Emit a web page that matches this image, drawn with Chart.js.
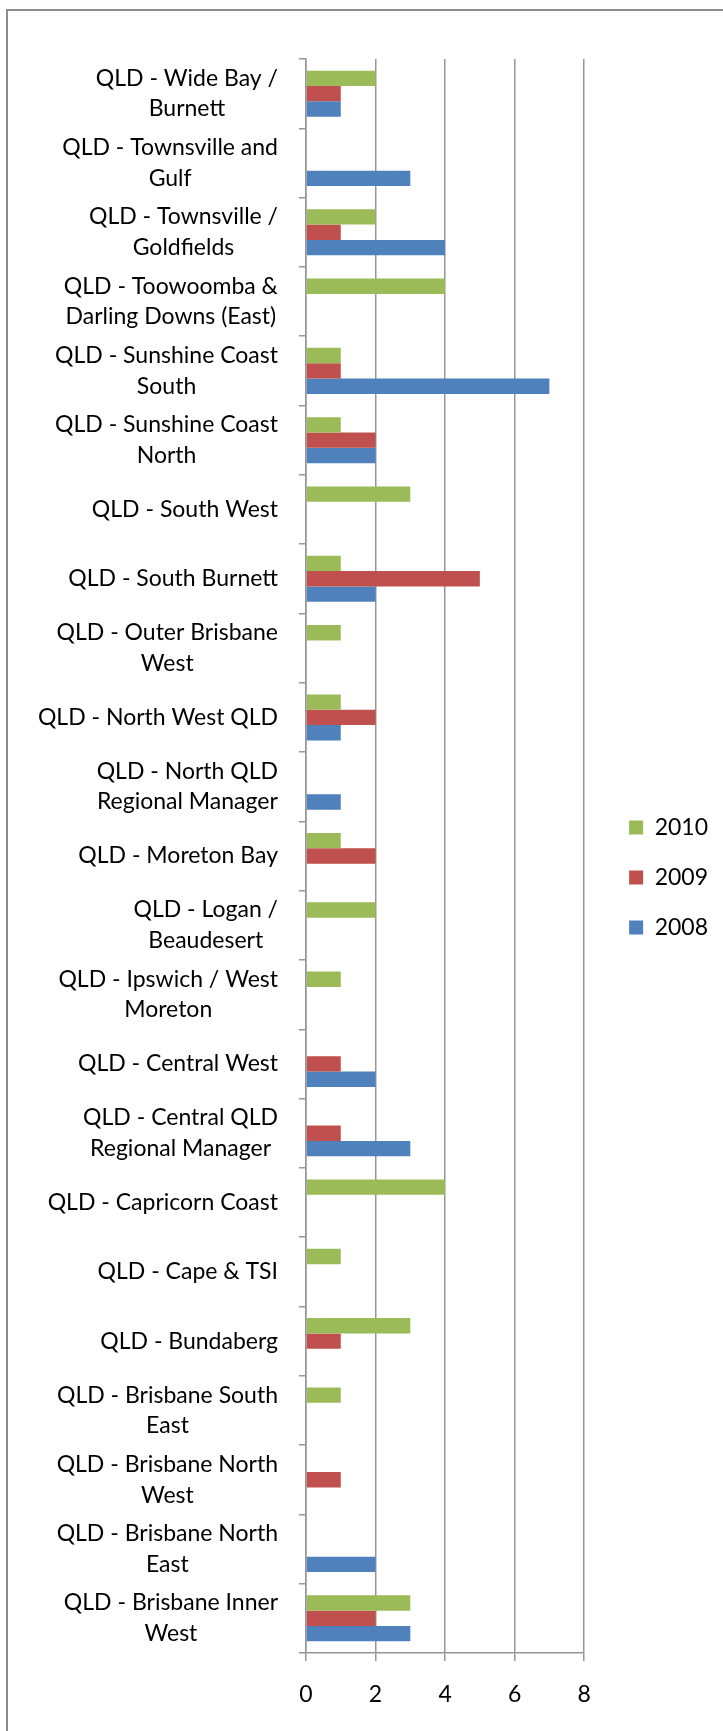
<!DOCTYPE html>
<html>
<head>
<meta charset="utf-8">
<script src="https://cdn.jsdelivr.net/npm/chart.js@4/dist/chart.umd.min.js"></script>
<style>
html,body{margin:0;padding:0;background:#fff;overflow:hidden;}
#frame{position:absolute;left:6px;top:9px;width:800px;height:1800px;border:2px solid #8c8c8c;box-sizing:border-box;}
#wrap{position:absolute;left:0;top:0;width:723px;height:1731px;}
</style>
</head>
<body>
<div id="frame"></div>
<div id="wrap"><canvas id="c" width="723" height="1731"></canvas></div>
<script>
const categories = [
  ["QLD - Wide Bay /", "Burnett"],
  ["QLD - Townsville and", "Gulf"],
  ["QLD - Townsville /", "Goldfields"],
  ["QLD - Toowoomba &", "Darling Downs (East)"],
  ["QLD - Sunshine Coast", "South"],
  ["QLD - Sunshine Coast", "North"],
  ["QLD - South West"],
  ["QLD - South Burnett"],
  ["QLD - Outer Brisbane", "West"],
  ["QLD - North West QLD"],
  ["QLD - North QLD", "Regional Manager"],
  ["QLD - Moreton Bay"],
  ["QLD - Logan /", "Beaudesert"],
  ["QLD - Ipswich / West", "Moreton"],
  ["QLD - Central West"],
  ["QLD - Central QLD", "Regional Manager"],
  ["QLD - Capricorn Coast"],
  ["QLD - Cape & TSI"],
  ["QLD - Bundaberg"],
  ["QLD - Brisbane South", "East"],
  ["QLD - Brisbane North", "West"],
  ["QLD - Brisbane North", "East"],
  ["QLD - Brisbane Inner", "West"]
];
const seriesNames = ["2010", "2009", "2008"];
const values2010 = [2, 0, 2, 4, 1, 1, 3, 1, 1, 1, 0, 1, 2, 1, 0, 0, 4, 1, 3, 1, 0, 0, 3];
const values2009 = [1, 0, 1, 0, 1, 2, 0, 5, 0, 2, 0, 2, 0, 0, 1, 1, 0, 0, 1, 0, 1, 0, 2];
const values2008 = [1, 3, 4, 0, 7, 2, 0, 2, 0, 1, 1, 0, 0, 0, 2, 3, 0, 0, 0, 0, 0, 2, 3];
const xTicks = [0, 2, 4, 6, 8];

const FONT = {family: "Lato, 'Open Sans', sans-serif", size: 23};
const GRID = '#969696';

const yLabelPlugin = {
  id: 'yLabels',
  afterDraw(chart) {
    const ctx = chart.ctx;
    const y = chart.scales.y;
    const right = chart.chartArea.left - 28;
    const lh = 30.7;
    ctx.save();
    ctx.font = FONT.size + 'px ' + FONT.family;
    ctx.fillStyle = '#000';
    ctx.textAlign = 'center';
    ctx.textBaseline = 'middle';
    categories.forEach((lines, i) => {
      const w = Math.max(...lines.map(t => ctx.measureText(t).width));
      const cx = right - w / 2;
      const cy = y.getPixelForValue(i);
      lines.forEach((t, j) => {
        ctx.fillText(t, cx, cy + (j - (lines.length - 1) / 2) * lh);
      });
    });
    ctx.restore();
  }
};

new Chart(document.getElementById('c'), {
  type: 'bar',
  data: {
    labels: categories,
    datasets: [
      {label: seriesNames[0], data: values2010, backgroundColor: '#9BBB59'},
      {label: seriesNames[1], data: values2009, backgroundColor: '#C0504D'},
      {label: seriesNames[2], data: values2008, backgroundColor: '#4F81BD'}
    ]
  },
  options: {
    indexAxis: 'y',
    responsive: false,
    devicePixelRatio: 1,
    animation: false,
    datasets: {bar: {categoryPercentage: 0.664, barPercentage: 1.0, borderWidth: 0}},
    layout: {padding: {top: 59, bottom: 21, left: 0, right: 5}},
    plugins: {
      tooltip: {enabled: false},
      legend: {
        position: 'right',
        align: 'start',
        title: {display: true, text: '', font: {size: 1, lineHeight: 1}, padding: {top: 729, bottom: 0}},
        labels: {boxWidth: 14, boxHeight: 14, padding: 27, font: FONT, color: '#000'}
      }
    },
    scales: {
      x: {
        type: 'linear',
        min: 0, max: 8,
        afterBuildTicks: s => { s.ticks = xTicks.map(v => ({value: v})); },
        ticks: {font: FONT, color: '#000', padding: 20},
        grid: {color: GRID, lineWidth: 1.5, tickLength: 8},
        border: {color: GRID, width: 1.5},
        afterFit: s => { s.height = 57; }
      },
      y: {
        type: 'category',
        ticks: {display: false, autoSkip: false},
        grid: {drawOnChartArea: false, tickLength: 7, color: GRID, lineWidth: 1.5, offset: true},
        border: {color: GRID, width: 1.5},
        afterFit: s => { s.width = 306; }
      },
      yR: {
        type: 'category',
        position: 'right',
        ticks: {display: false},
        grid: {display: false},
        border: {display: false},
        afterFit: s => { s.width = 18; }
      }
    }
  },
  plugins: [yLabelPlugin]
});
</script>
</body>
</html>
